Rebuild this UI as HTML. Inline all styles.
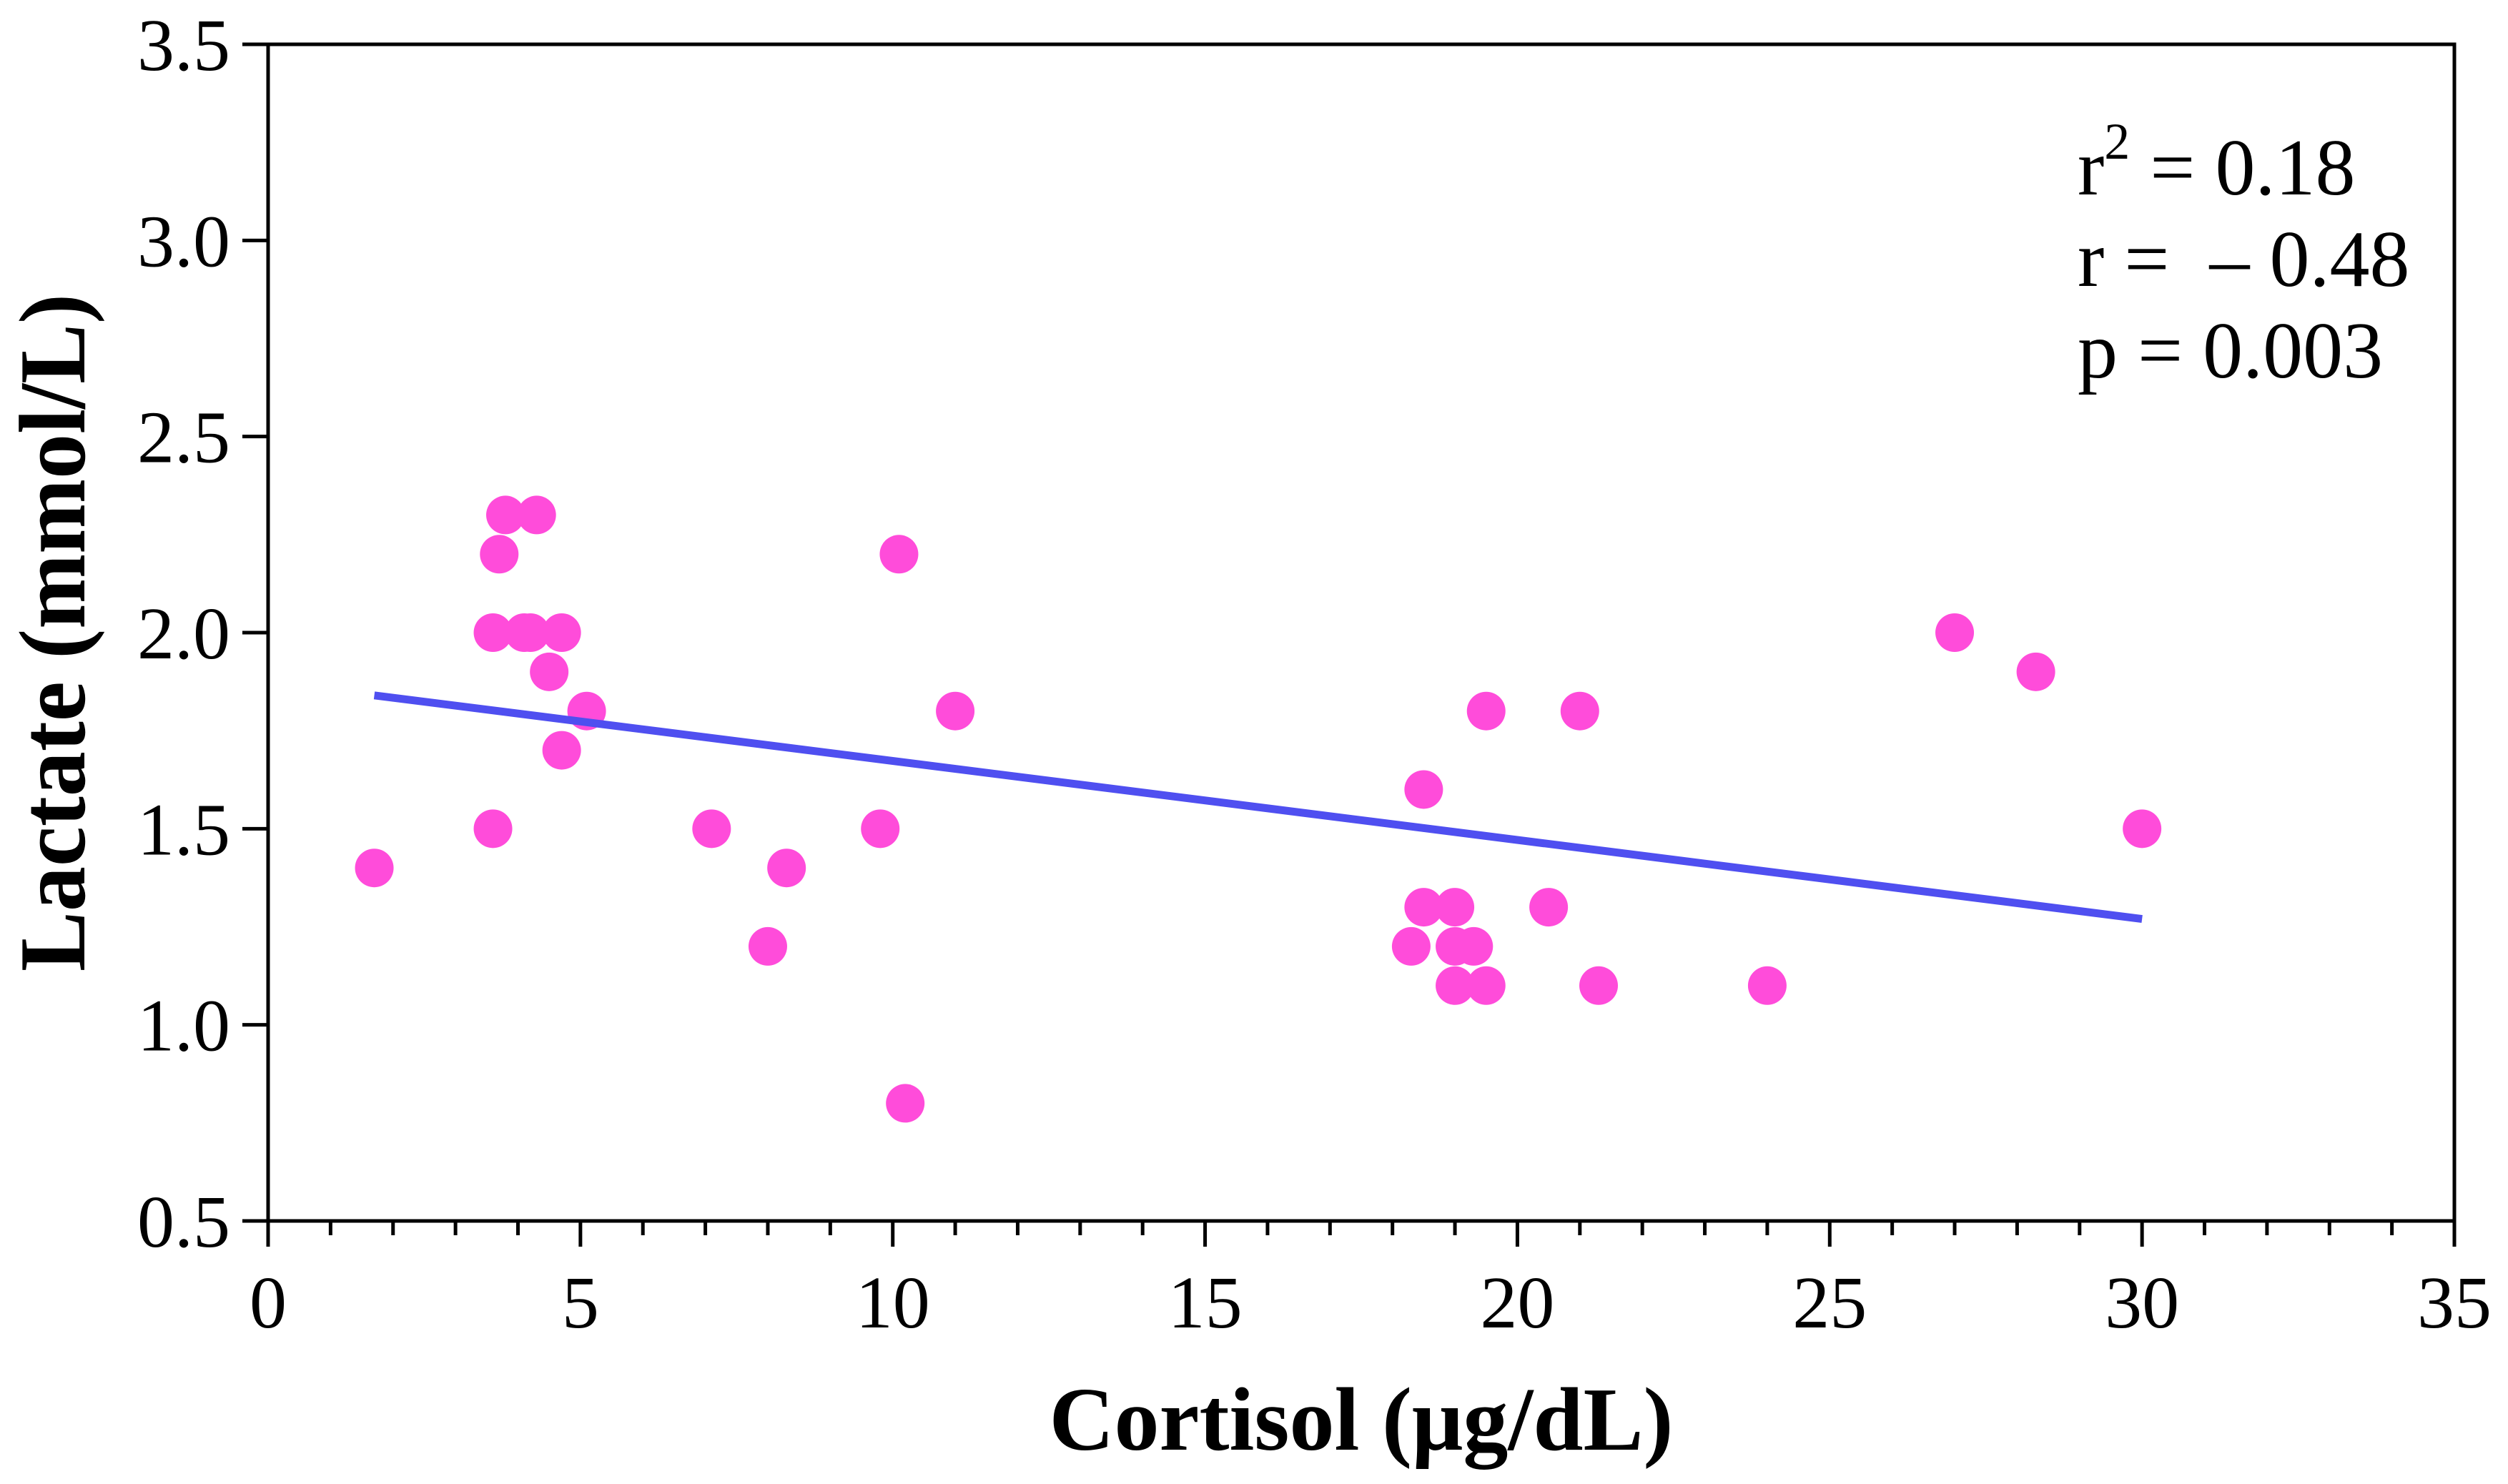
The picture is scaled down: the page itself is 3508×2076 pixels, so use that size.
<!DOCTYPE html>
<html><head><meta charset="utf-8"><style>html,body{margin:0;padding:0;background:#fff}svg{display:block}text{white-space:pre}</style></head>
<body>
<svg id="chart" width="3508" height="2076" viewBox="0 0 3508 2076" xmlns="http://www.w3.org/2000/svg" font-family="'Liberation Serif', serif">
<g id="axes"></g>
<g id="points"></g>
<g id="fit"></g>
<text x="0" y="0" transform="translate(118,885) rotate(-90) scale(1,1.05)" text-anchor="middle" font-size="126" font-weight="bold">Lactate (mmol/L)</text>
<text x="1904" y="2028" text-anchor="middle" font-size="126" font-weight="bold">Cortisol (μg/dL)</text>
<g font-size="112">
<text x="2906" y="272">r<tspan dy="-50" font-size="72">2</tspan><tspan dy="50"> = 0.18</tspan></text>
<text x="2906" y="400">r =  – 0.48</text>
<text x="2906" y="528">p = 0.003</text>
</g>
</svg>
<script>
const cortisol = [1.7,3.6,3.6,3.7,3.8,4.1,4.2,4.3,4.5,4.7,4.7,5.1,7.1,8.0,8.3,9.8,10.1,10.2,11.0,18.3,18.5,18.5,19.0,19.0,19.3,19.0,19.5,19.5,20.5,21.0,21.3,24.0,27.0,28.3,30.0];
const lactate = [1.4,2.0,1.5,2.2,2.3,2.0,2.0,2.3,1.9,2.0,1.7,1.8,1.5,1.2,1.4,1.5,2.2,0.8,1.8,1.2,1.6,1.3,1.3,1.2,1.2,1.1,1.1,1.8,1.3,1.8,1.1,1.1,2.0,1.9,1.5];
const fitX = [1.7, 30.0];
const fitY = [1.84, 1.27];
const xTicks = [0,5,10,15,20,25,30,35];
const yTicks = [0.5,1.0,1.5,2.0,2.5,3.0,3.5];
const X0=375,X1=3433,Y0=1708,Y1=62;
const xMin=0,xMax=35,yMin=0.5,yMax=3.5;
function sx(v){return X0+(v-xMin)/(xMax-xMin)*(X1-X0);}
function sy(v){return Y0-(v-yMin)/(yMax-yMin)*(Y0-Y1);}
const NS="http://www.w3.org/2000/svg";
function mk(tag,attrs,parent){const e=document.createElementNS(NS,tag);for(const k in attrs)e.setAttribute(k,attrs[k]);parent.appendChild(e);return e;}
const axes=document.getElementById('axes');
let f=mk('rect',{x:X0,y:Y1,width:X1-X0,height:Y0-Y1,fill:'none',stroke:'#000','stroke-width':5},axes);


for(let v=xMin;v<=xMax;v+=1){
  const major=v%5===0;
  const t=mk('line',{x1:sx(v),x2:sx(v),y1:Y0,y2:Y0+(major?36:20),stroke:'#000','stroke-width':5},axes);
  
  
}
xTicks.forEach(v=>{
  const t=mk('text',{x:sx(v),y:1857,'text-anchor':'middle','font-size':104},axes);
  t.textContent=String(v);
  
  
});
yTicks.forEach(v=>{
  const l=mk('line',{x1:X0-36,x2:X0,y1:sy(v),y2:sy(v),stroke:'#000','stroke-width':5},axes);
  
  
  const t=mk('text',{x:322,y:sy(v)+36,'text-anchor':'end','font-size':104},axes);
  t.textContent=v.toFixed(1);
  
  
});
const pts=document.getElementById('points');
cortisol.forEach((c,i)=>{
  const p=mk('circle',{cx:sx(c),cy:sy(lactate[i]),r:27,fill:'#ff4cda'},pts);
  
  
});
const fit=document.getElementById('fit');
const ln=mk('line',{x1:sx(fitX[0]),y1:sy(fitY[0]),x2:sx(fitX[1]),y2:sy(fitY[1]),stroke:'#4f4ff0','stroke-width':11},fit);


</script>
</body></html>
